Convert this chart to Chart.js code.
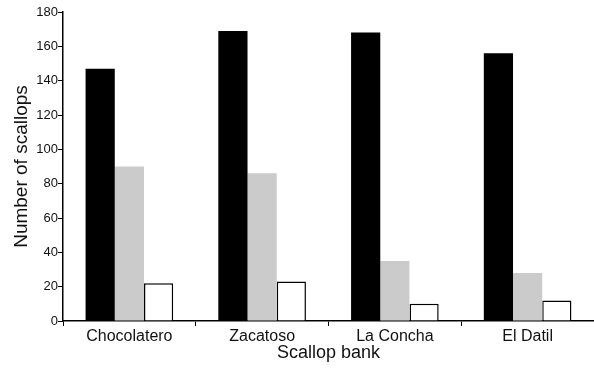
<!DOCTYPE html>
<html>
<head>
<meta charset="utf-8">
<script src="https://cdn.jsdelivr.net/npm/chart.js@4/dist/chart.umd.min.js"></script>
<style>
  html, body { margin: 0; padding: 0; background: #fff; }
  #wrap { width: 594px; height: 372px; position: relative; }
</style>
</head>
<body>
<div id="wrap"><canvas id="chart"></canvas></div>
<script>
// values
var banks = ['Chocolatero', 'Zacatoso', 'La Concha', 'El Datil'];
var blackSeries = [147, 169, 168, 156];
var greySeries = [90, 86, 35, 28];
var whiteSeries = [22, 23, 10, 12];
var yTicks = [0, 20, 40, 60, 80, 100, 120, 140, 160, 180];

var FONT = '"Liberation Sans", Arial, sans-serif';

new Chart(document.getElementById('chart'), {
    type: 'bar',
    data: {
        labels: banks,
        datasets: [
            { label: 'Series 1', data: blackSeries, backgroundColor: '#000', borderWidth: 0 },
            { label: 'Series 2', data: greySeries, backgroundColor: '#cbcbcb', borderWidth: 0 },
            { label: 'Series 3', data: whiteSeries, backgroundColor: '#fff', borderColor: '#000', borderWidth: 1.5 }
        ]
    },
    options: {
        responsive: true,
        maintainAspectRatio: false,
        animation: false,
        devicePixelRatio: 1,
        layout: { padding: { top: 12, right: 0, left: 0, bottom: 0 } },
        plugins: { legend: { display: false }, tooltip: { enabled: false } },
        datasets: { bar: { categoryPercentage: 0.66, barPercentage: 1 } },
        scales: {
            x: {
                grid: { offset: true, drawOnChartArea: false, drawTicks: true, tickLength: 5, color: '#000', lineWidth: 1 },
                border: { color: '#000', width: 1.5 },
                ticks: { color: '#111', padding: 1, font: { family: FONT, size: 16 } },
                title: { display: true, text: 'Scallop bank', color: '#111', padding: { top: 0, bottom: 8 }, font: { family: FONT, size: 18 } },
                afterFit: function(scale) { scale.height = 51; }
            },
            y: {
                min: 0,
                max: 180,
                afterBuildTicks: function(scale) {
                    scale.ticks = yTicks.map(function(v) { return { value: v }; });
                },
                grid: { drawOnChartArea: false, drawTicks: true, tickLength: 5, color: '#000', lineWidth: 1 },
                border: { color: '#000', width: 1.5 },
                ticks: { color: '#111', padding: 0, font: { family: FONT, size: 13 } },
                title: { display: true, text: 'Number of scallops', color: '#111', padding: { top: 10, bottom: 0 }, font: { family: FONT, size: 19 } },
                afterFit: function(scale) { scale.width = 63; }
            }
        }
    }
});
</script>
</body>
</html>
